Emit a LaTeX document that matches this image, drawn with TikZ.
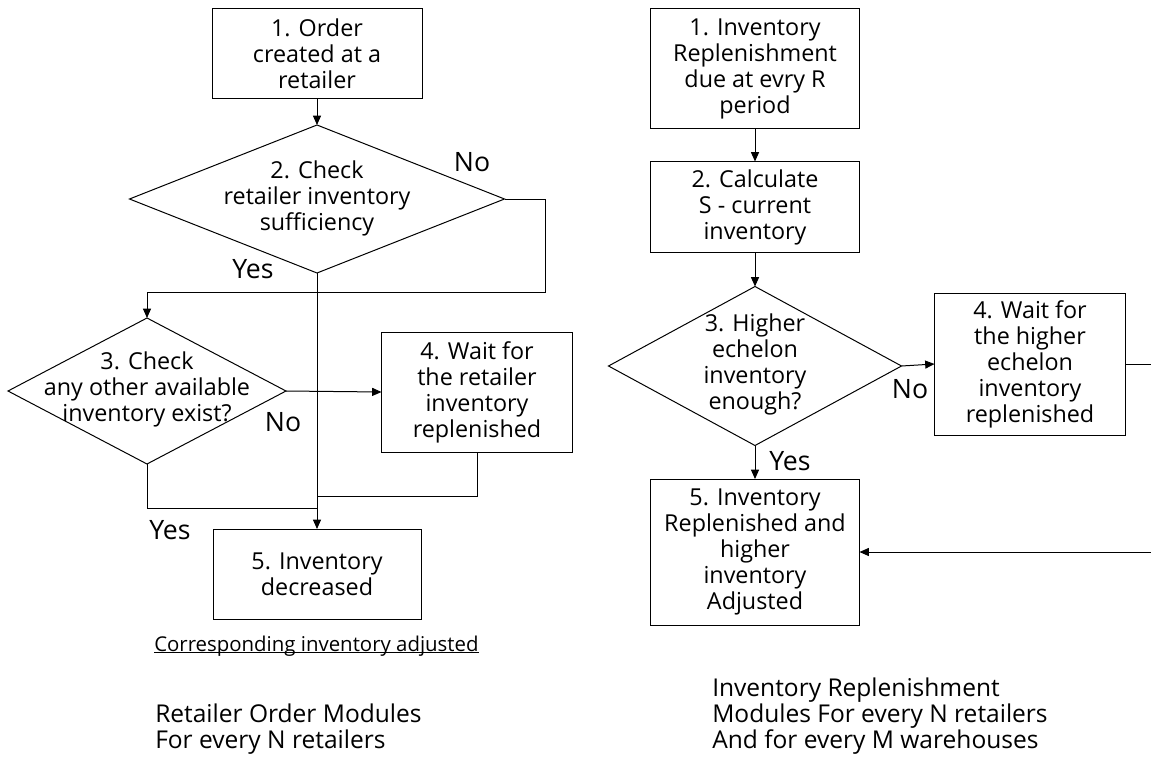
\documentclass[tikz,border=0pt]{standalone}
\usepackage{fontspec}
\setmainfont{Open Sans}
\usetikzlibrary{shapes.geometric,arrows.meta}
\newsavebox\myulbox
\newcommand\myul[1]{\sbox\myulbox{#1}\rlap{\rule[-1.6pt]{\wd\myulbox}{0.7pt}}\usebox\myulbox}
\begin{document}
\begin{tikzpicture}[x=0.75pt,y=-0.75pt,
  box/.style={draw,line width=0.75pt,inner sep=0pt,outer sep=0pt,align=center,font=\fontsize{17.5}{19.5}\selectfont},
  dia/.style={draw,diamond,line width=0.75pt,inner sep=0pt,outer sep=0pt},
  txt/.style={inner sep=0pt,align=center,font=\fontsize{17.5}{19.5}\selectfont},
  lbl/.style={inner sep=0pt,font=\fontsize{20}{24}\selectfont},
  note/.style={inner sep=0pt,align=left,font=\fontsize{18.4}{19.6}\selectfont},
  smallnote/.style={inner sep=0pt,font=\fontsize{15.3}{18}\selectfont},
  arr/.style={-{Triangle[length=7pt,width=6pt]},line width=0.75pt},
  ln/.style={line width=0.75pt}]
\useasboundingbox (0,0) rectangle (1151,756);
\fill[white] (0,0) rectangle (1151,756);

% ---------- left flow ----------
\node[box,minimum width=157.5pt,minimum height=67.5pt] (b1) at (317,54) {1. Order\\created at a\\retailer};
\node[dia,minimum width=281.25pt,minimum height=111pt] (d2) at (317,199) {};
\node[txt] (d2t) at (317,198) {2. Check\\retailer inventory\\sufficiency};
\node[dia,minimum width=208.5pt,minimum height=109.5pt] (d3) at (147,391) {};
\node[txt] (d3t) at (147,389) {3. Check\\any other available\\inventory exist?};
\node[box,minimum width=143.25pt,minimum height=90pt] (b4) at (477,392) {4. Wait for\\the retailer\\inventory\\replenished};
\node[box,minimum width=156pt,minimum height=67.5pt] (b5) at (317,574) {5. Inventory\\decreased};

\node[lbl] (no1) at (472,162) {No};
\node[lbl] (yes1) at (253,269) {Yes};
\node[lbl] (no2) at (283,422) {No};
\node[lbl] (yes2) at (170,530) {Yes};

\coordinate (j1) at (545,292);
\coordinate (m1) at (317,496);
\coordinate (m2) at (317,508);

\draw[arr] (b1.south) -- (d2.north);
\draw[arr] (d2.east) -| (j1) -| (d3.north);
\draw[arr] (d2.south) -- (b5.north);
\draw[arr] (d3.east) -- (b4.west);
\draw[ln] (b4.south) |- (m1);
\draw[ln] (d3.south) |- (m2);

\node[smallnote,anchor=base west] (corr) at (154,651) {\myul{Corresponding inventory adjusted}};
\node[note,anchor=west] (capL) at (155,729) {Retailer Order Modules\\For every N retailers};

% ---------- right flow ----------
\node[box,minimum width=156.75pt,minimum height=90pt] (r1) at (755,69) {1. Inventory\\Replenishment\\due at evry R\\period};
\node[box,minimum width=156.75pt,minimum height=68.25pt] (r2) at (755,207) {2. Calculate\\S - current\\inventory};
\node[dia,minimum width=219.75pt,minimum height=119.25pt] (d3r) at (755,366) {};
\node[txt] (d3rt) at (755,364) {3. Higher\\echelon\\inventory\\enough?};
\node[box,minimum width=143.25pt,minimum height=106.5pt] (r4) at (1030,364) {4. Wait for\\the higher\\echelon\\inventory\\replenished};
\node[box,minimum width=156.75pt,minimum height=109.5pt] (r5) at (755,552) {5. Inventory\\Replenished and\\higher\\inventory\\Adjusted};

\node[lbl] (no3) at (910,389) {No};
\node[lbl] (yes3) at (790,461) {Yes};

\coordinate (rx) at (1165,460);

\draw[arr] (r1.south) -- (r2.north);
\draw[arr] (r2.south) -- (d3r.north);
\draw[arr] (d3r.east) -- (r4.west);
\draw[arr] (d3r.south) -- (r5.north);
\draw[arr] (r4.east) -| (rx) |- (r5.east);

\node[note,anchor=west] (capR) at (712,716) {Inventory Replenishment\\Modules For every N retailers\\And for every M warehouses};
\end{tikzpicture}
\end{document}
